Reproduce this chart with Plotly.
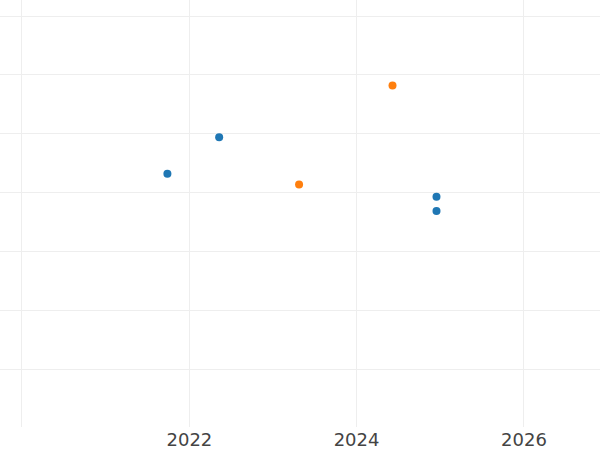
import plotly.graph_objects as go

# Data
series_a_dates = ["2021-09-27", "2022-05-11", "2024-12-15", "2024-12-15"]
series_a_values = [4.32, 4.94, 3.93, 3.69]
series_b_dates = ["2023-04-25", "2024-06-06"]
series_b_values = [4.14, 5.82]

tick_vals = ["2020-01-01", "2022-01-01", "2024-01-01", "2026-01-01"]
tick_text = ["2020", "2022", "2024", "2026"]

fig = go.Figure()
fig.add_trace(go.Scatter(x=series_a_dates, y=series_a_values, mode="markers",
                         marker=dict(color="#1f77b4", size=8), name="A"))
fig.add_trace(go.Scatter(x=series_b_dates, y=series_b_values, mode="markers",
                         marker=dict(color="#ff7f0e", size=8), name="B"))

fig.update_layout(
    template="none",
    width=600, height=450,
    margin=dict(l=0, r=0, t=0, b=23),
    showlegend=False,
    paper_bgcolor="white", plot_bgcolor="white",
    font=dict(family="DejaVu Sans", size=18, color="#444"),
)
fig.update_xaxes(type="date", range=["2019-09-27", "2026-11-29"],
                 tickvals=tick_vals, ticktext=tick_text,
                 showgrid=True, gridcolor="#eee", gridwidth=1,
                 zeroline=False, ticks="")
fig.update_yaxes(range=[0.02, 7.272], dtick=1, tick0=0,
                 showgrid=True, gridcolor="#eee", gridwidth=1,
                 zeroline=False, showticklabels=False, ticks="")

fig.write_html("out.html",
               config={"displayModeBar": False},
               post_script="document.body.style.margin='0';document.body.style.overflow='hidden';")
